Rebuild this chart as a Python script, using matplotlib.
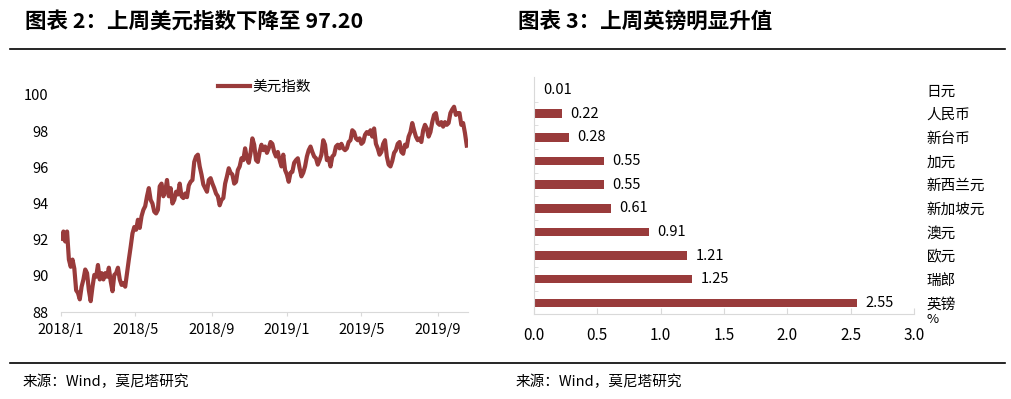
import numpy as np
import pandas as pd
import matplotlib
matplotlib.use('Agg')
import matplotlib.pyplot as plt
from matplotlib.lines import Line2D

plt.rcParams['font.family'] = ['Noto Sans CJK SC', 'DejaVu Sans']
plt.rcParams['axes.unicode_minus'] = False

# ---- data: US dollar index ----
dxy_start = '2018-01-02'
dxy_end = '2019-10-18'
dxy = [92.05, 92.45, 91.9, 92.45, 90.9, 90.5, 90.9, 90.4, 89.2, 89.05, 88.7, 89.4, 89.8, 90.35,
       90.15, 89.2, 88.6, 89.4, 90.05, 89.95, 90.6, 89.8, 90.15, 89.8, 90.15, 89.95, 90.45, 89.7,
       89.15, 90.05, 90.15, 90.45, 89.8, 89.5, 89.6, 89.4, 90.15, 90.9, 91.6, 92.35, 92.7, 92.55,
       93.1, 92.65, 93.3, 93.65, 93.85, 94.4, 94.85, 94.2, 94.0, 93.55, 93.45, 93.65, 94.95, 95.1,
       94.4, 94.65, 95.3, 94.4, 94.85, 94.0, 94.2, 94.65, 94.5, 95.1, 94.4, 94.3, 94.55, 94.35,
       95.0, 95.2, 95.3, 96.3, 96.6, 96.7, 96.05, 95.6, 95.05, 94.85, 94.65, 95.3, 95.4, 95.1,
       94.85, 94.55, 94.4, 93.9, 94.2, 94.3, 95.1, 95.5, 95.95, 95.7, 95.6, 95.1, 95.2, 95.85,
       96.05, 96.5, 96.4, 97.05, 96.5, 96.25, 96.8, 97.6, 97.25, 96.4, 96.3, 96.85, 97.25, 96.95,
       97.15, 96.8, 97.05, 97.4, 97.3, 96.85, 96.6, 96.85, 96.4, 96.05, 96.7, 95.85, 95.6, 95.2,
       95.7, 95.75, 96.25, 96.4, 96.5, 95.95, 95.5, 95.7, 96.05, 96.6, 96.95, 97.15, 96.85, 96.6,
       96.5, 96.15, 96.4, 96.7, 97.5, 97.25, 96.4, 96.5, 96.05, 96.6, 96.7, 97.15, 97.25, 97.05,
       97.3, 97.05, 96.95, 97.05, 97.4, 97.5, 98.05, 97.95, 97.6, 97.5, 97.6, 97.3, 97.4, 97.8,
       97.95, 97.85, 98.05, 97.7, 98.15, 97.3, 97.05, 96.7, 96.85, 97.3, 97.5, 96.6, 96.15, 96.05,
       96.35, 96.8, 96.95, 97.3, 97.4, 96.85, 96.75, 97.25, 97.15, 97.7, 97.95, 98.45, 98.05, 97.7,
       97.5, 97.6, 97.4, 98.05, 98.35, 98.15, 97.7, 97.95, 98.5, 98.9, 99.0, 98.45, 98.35, 98.5,
       98.25, 98.5, 98.35, 98.45, 99.0, 99.2, 99.35, 98.9, 99.0, 99.0, 98.35, 98.45, 97.9, 97.2]
month_ticks = ['2018-01-01', '2018-05-01', '2018-09-01', '2019-01-01', '2019-05-01', '2019-09-01']
month_labels = ['2018/1', '2018/5', '2018/9', '2019/1', '2019/5', '2019/9']
y_ticks = [88, 90, 92, 94, 96, 98, 100]

# ---- data: currency moves vs USD last week (%) ----
currencies = ['日元', '人民币', '新台币', '加元', '新西兰元', '新加坡元', '澳元', '欧元', '瑞郎', '英镑']
changes = [0.01, 0.22, 0.28, 0.55, 0.55, 0.61, 0.91, 1.21, 1.25, 2.55]
x_ticks = [0.0, 0.5, 1.0, 1.5, 2.0, 2.5, 3.0]

red = '#993b3b'
grey = '#d9d9d9'
fs = 10.5

fig = plt.figure(figsize=(10.12, 3.99), dpi=100)

# titles, rules and sources
fig.text(25 / 1012, 1 - 21 / 399, '图表 2：上周美元指数下降至 97.20', fontsize=15.5,
         fontweight='bold', va='center', ha='left')
fig.text(518 / 1012, 1 - 21 / 399, '图表 3：上周英镑明显升值', fontsize=15.5,
         fontweight='bold', va='center', ha='left')
fig.add_artist(Line2D([10 / 1012, 1005 / 1012], [1 - 49 / 399] * 2, color='black', lw=1.2))
fig.add_artist(Line2D([10 / 1012, 1005 / 1012], [1 - 363 / 399] * 2, color='black', lw=1.2))
fig.text(23 / 1012, 1 - 382 / 399, '来源：Wind，莫尼塔研究', fontsize=10.5, va='center')
fig.text(516 / 1012, 1 - 382 / 399, '来源：Wind，莫尼塔研究', fontsize=10.5, va='center')

# ---- left: dollar index line ----
dates = pd.date_range(dxy_start, dxy_end, periods=len(dxy))
ax1 = fig.add_axes([61 / 1012, 1 - 312 / 399, 407 / 1012, 217 / 399])
ax1.plot(dates, dxy, color=red, lw=3, label='美元指数')
ax1.set_ylim(88, 100)
ax1.set_yticks(y_ticks)
ax1.set_xlim(pd.Timestamp('2018-01-01'), pd.Timestamp('2019-10-20'))
ax1.set_xticks(pd.to_datetime(month_ticks))
ax1.set_xticklabels(month_labels)
for s in ['top', 'right', 'left']:
    ax1.spines[s].set_visible(False)
ax1.spines['bottom'].set_color(grey)
ax1.tick_params(axis='y', length=0, pad=9, labelsize=fs)
ax1.tick_params(axis='x', length=3, color=grey, pad=5, labelsize=fs)
ax1.legend(loc='upper center', bbox_to_anchor=(0.5, 1.13), frameon=False, fontsize=fs,
           handlelength=2.2, handletextpad=0.2)

# ---- right: horizontal bars ----
ax2 = fig.add_axes([534 / 1012, 1 - 314 / 399, 380 / 1012, 237 / 399])
pos = np.arange(len(currencies))
ax2.barh(pos, changes, height=0.36, color=red)
for p, v in zip(pos, changes):
    ax2.text(v + 0.065, p, f'{v:.2f}', va='center', ha='left', fontsize=fs)
ax2.set_xlim(0, 3.0)
ax2.set_ylim(9.47, -0.55)
ax2.set_xticks(x_ticks)
ax2.set_xticklabels([f'{t:.1f}' for t in x_ticks])
ax2.set_yticks(pos)
ax2.set_yticklabels(currencies)
ax2.set_yticks(pos[:-1] + 0.5, minor=True)
ax2.yaxis.set_ticks_position('right')
ax2.tick_params(axis='y', which='major', length=0, pad=9, labelsize=fs)
ax2.tick_params(axis='y', which='minor', left=True, right=False, direction='in', length=3,
                color=grey)
ax2.tick_params(axis='x', direction='in', length=4, color=grey, pad=9, labelsize=fs + 0.5)
for s in ['top', 'right']:
    ax2.spines[s].set_visible(False)
ax2.spines['left'].set_color(grey)
ax2.spines['bottom'].set_color(grey)
ax2.text(1.032, -0.025, '%', transform=ax2.transAxes, va='center', ha='left', fontsize=fs - 1)

fig.savefig('out.png', dpi=100)
